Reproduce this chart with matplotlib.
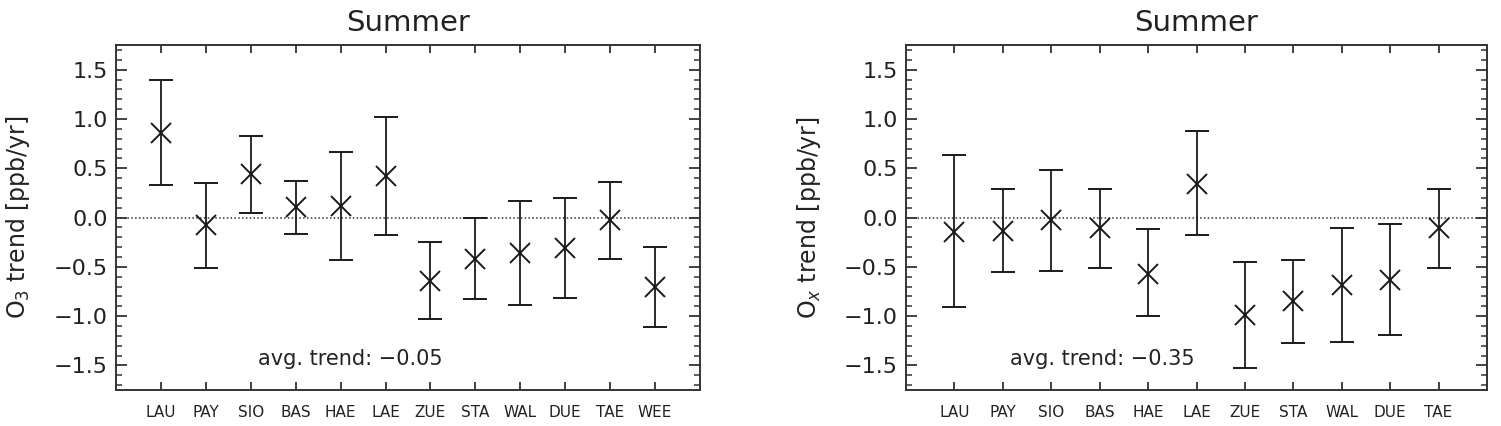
import matplotlib
matplotlib.use("Agg")
import matplotlib.pyplot as plt
from matplotlib.ticker import MultipleLocator, FixedLocator
import numpy as np

# ---- data ----
sites_o3 = ["LAU", "PAY", "SIO", "BAS", "HAE", "LAE", "ZUE", "STA", "WAL", "DUE", "TAE", "WEE"]
o3_trend = [0.86, -0.08, 0.44, 0.11, 0.12, 0.42, -0.64, -0.42, -0.36, -0.31, -0.03, -0.70]
o3_upper = [1.39, 0.35, 0.83, 0.37, 0.66, 1.02, -0.25, -0.01, 0.17, 0.20, 0.36, -0.30]
o3_lower = [0.33, -0.51, 0.05, -0.17, -0.43, -0.18, -1.03, -0.83, -0.89, -0.82, -0.42, -1.11]
o3_avg = "avg. trend: \u22120.05"

sites_ox = ["LAU", "PAY", "SIO", "BAS", "HAE", "LAE", "ZUE", "STA", "WAL", "DUE", "TAE"]
ox_trend = [-0.15, -0.14, -0.03, -0.11, -0.57, 0.34, -0.99, -0.85, -0.68, -0.63, -0.11]
ox_upper = [0.63, 0.29, 0.48, 0.29, -0.12, 0.88, -0.45, -0.43, -0.11, -0.07, 0.29]
ox_lower = [-0.91, -0.55, -0.54, -0.51, -1.00, -0.18, -1.53, -1.27, -1.26, -1.19, -0.51]
ox_avg = "avg. trend: \u22120.35"

title = "Summer"
ylabels = ["O$_3$ trend [ppb/yr]", "O$_x$ trend [ppb/yr]"]
yticks = [-1.5, -1.0, -0.5, 0.0, 0.5, 1.0, 1.5]

plt.rcParams['font.family'] = ['DejaVu Sans']
plt.rcParams['mathtext.fontset'] = 'dejavusans'

fig = plt.figure(figsize=(15.01, 4.26), dpi=100)
ax1 = fig.add_axes([116/1501, 36/426, 584/1501, 345/426])
ax2 = fig.add_axes([906/1501, 36/426, 581/1501, 345/426])

txtcol = "#222222"

def panel(ax, sites, trend, upper, lower, avg, ylabel, avg_x, lab_x):
    x = np.arange(len(sites))
    t = np.array(trend)
    yerr = np.vstack([t - np.array(lower), np.array(upper) - t])
    ax.axhline(0, color="#333333", lw=1.1, ls=(0, (1, 1.5)), zorder=1)
    ax.errorbar(x, t, yerr=yerr, fmt='x', color="#1a1a1a", ecolor="#1a1a1a",
                elinewidth=1.3, capsize=8.5, capthick=1.3,
                markersize=15, markeredgewidth=1.4, zorder=3)
    ax.set_xlim(-1, len(sites))
    ax.set_ylim(-1.75, 1.75)
    ax.xaxis.set_major_locator(FixedLocator(x))
    ax.set_xticklabels(sites)
    ax.yaxis.set_major_locator(FixedLocator(yticks))
    ax.set_yticklabels(["\u2212%.1f" % abs(v) if v < 0 else "%.1f" % v for v in yticks])
    ax.yaxis.set_minor_locator(MultipleLocator(0.1))
    ax.tick_params(axis='x', which='major', direction='in', top=True, bottom=True,
                   length=6, width=1.3, pad=11, labelsize=11, colors="#333333",
                   labelcolor=txtcol)
    ax.tick_params(axis='y', which='major', direction='in', left=True, right=True,
                   length=8, width=1.3, pad=6, labelsize=16, colors="#333333",
                   labelcolor=txtcol)
    ax.tick_params(axis='y', which='minor', direction='in', left=True, right=True,
                   length=4, width=1.1, colors="#333333")
    for s in ax.spines.values():
        s.set_linewidth(1.4)
        s.set_color("#333333")
    ax.set_title(title, fontsize=21, color=txtcol, pad=10)
    ax.set_ylabel(ylabel, fontsize=17, color=txtcol)
    ax.yaxis.set_label_coords(lab_x, 0.5)
    ax.text(avg_x, 0.09, avg, transform=ax.transAxes, ha='center', va='center',
            fontsize=15, color=txtcol)

panel(ax1, sites_o3, o3_trend, o3_upper, o3_lower, o3_avg, ylabels[0], 0.402, -0.143)
panel(ax2, sites_ox, ox_trend, ox_upper, ox_lower, ox_avg, ylabels[1], 0.3375, -0.143)

fig.savefig("out.png", dpi=100)
